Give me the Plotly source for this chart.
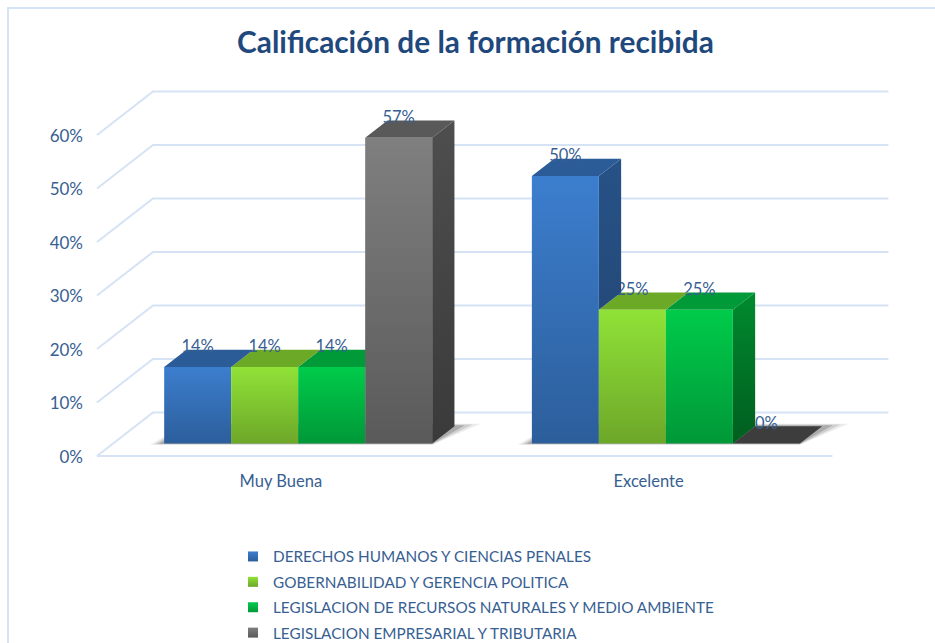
import plotly.graph_objects as go

# ---- data ----
categories = ["Muy Buena", "Excelente"]
series_names = [
    "DERECHOS HUMANOS Y CIENCIAS PENALES",
    "GOBERNABILIDAD Y GERENCIA POLITICA",
    "LEGISLACION DE RECURSOS NATURALES Y MEDIO AMBIENTE",
    "LEGISLACION EMPRESARIAL Y TRIBUTARIA",
]
derechos = [14.29, 50.0]
gobernabilidad = [14.29, 25.0]
legislacion_rn = [14.29, 25.0]
empresarial = [57.14, 0.0]
y_ticks = [0, 10, 20, 30, 40, 50, 60]
y_tick_labels = ["0%", "10%", "20%", "30%", "40%", "50%", "60%"]
series_values = [derechos, gobernabilidad, legislacion_rn, empresarial]

# ---- styles (front top, front bottom, top face, side top, side bottom) ----
styles = [
    ("#3C7ECE", "#2C5E9B", "#2B5C97", "#275287", "#244A7A"),
    ("#90E237", "#6DA729", "#6CA926", "#5E9424", "#4E7A1E"),
    ("#00CB4A", "#009838", "#009A38", "#008A2E", "#005E1F"),
    ("#7F7F7F", "#5A5A5A", "#595959", "#4E4E4E", "#3A3A3A"),
]
TEXT = "#376092"
GRID = "#D5E3F5"
FONT = "Lato"

# ---- layout geometry ----
W, H = 935, 643
X0_PX, Y0_PX = 97.0, 456.0      # front-left corner of the floor
BAND_PX = 367.7                 # width of one category
UNIT_PX = 5.35                  # pixels per percentage point
DEPTH_PX = (56.0, 43.5)         # floor depth vector
BAR_W = 67.0 / BAND_PX
DX, DY = DEPTH_PX[0] / BAND_PX, DEPTH_PX[1] / UNIT_PX
F0, F1 = 0.286, 0.684           # bar's front/back as a fraction of floor depth
GROUP_SHIFT = 1.3 / BAND_PX

x_range = [-X0_PX / BAND_PX, (W - X0_PX) / BAND_PX]
y_range = [-(H - Y0_PX) / UNIT_PX, Y0_PX / UNIT_PX]

fig = go.Figure()


def poly(xs, ys, **kw):
    fig.add_trace(go.Scatter(x=xs + xs[:1], y=ys + ys[:1], mode="lines", fill="toself",
                             hoverinfo="skip", showlegend=False, **kw))


# grid
nc = len(categories)
gx, gy = [], []
for t in y_ticks:
    gx += [0, DX, nc + DX, None]
    gy += [t, t + DY, t + DY, None]
gx += [0, nc, None]
gy += [0, 0, None]
fig.add_trace(go.Scatter(x=gx, y=gy, mode="lines", line=dict(color=GRID, width=2),
                         hoverinfo="skip", showlegend=False))


def front_x(c, s):
    return c + 0.5 + (s - len(series_values) / 2) * BAR_W + F0 * DX + GROUP_SHIFT


base = F0 * DY
fdx = (F1 - F0) * DX
fdy = (F1 - F0) * DY

# floor shadows
for c in range(nc):
    left = front_x(c, 0)
    right = front_x(c, len(series_values))
    for grow, alpha in [(1.0, 0.10), (0.7, 0.16), (0.4, 0.24)]:
        gx_ = grow * 14 / BAND_PX
        gy_ = grow * 1.2 / UNIT_PX
        poly([left - gx_, right, right + fdx + gx_ + 2 * grow * 6 / BAND_PX, left + fdx],
             [base - gy_, base - gy_, base + fdy + gy_ * 2, base + fdy + gy_ * 2],
             line=dict(width=0), fillcolor=f"rgba(60,60,60,{alpha})")

# back-to-front: sides, tops, labels
for s in reversed(range(len(series_values))):
    st = styles[s]
    vals = series_values[s]
    for c in range(nc):
        v = vals[c]
        xl = front_x(c, s)
        xr = xl + BAR_W
        top = base + v
        nxt = series_values[s + 1][c] if s + 1 < len(series_values) else 0
        low = base + min(nxt, v)
        if v > nxt:
            poly([xr, xr + fdx, xr + fdx, xr], [top, top + fdy, low + fdy, low],
                 line=dict(width=0), fillgradient=dict(type="vertical",
                 colorscale=[[0, st[4]], [1, st[3]]]))
        topc = st[2] if v > 0 else "#3D3D3D"
        poly([xl, xr, xr + fdx, xl + fdx], [top, top, top + fdy, top + fdy],
             line=dict(width=0), fillcolor=topc)
        fig.add_trace(go.Scatter(x=[xl + BAR_W / 2], y=[top + 19 / UNIT_PX], mode="text",
                                 text=[f"{v:.0f}%"], textposition="middle center",
                                 textfont=dict(family=FONT, size=16.5, color=TEXT),
                                 hoverinfo="skip", showlegend=False))

# fronts last
for s, vals in enumerate(series_values):
    st = styles[s]
    for c in range(nc):
        v = vals[c]
        if v <= 0:
            continue
        xl = front_x(c, s)
        xr = xl + BAR_W
        poly([xl, xr, xr, xl], [base, base, base + v, base + v],
             line=dict(width=0),
             fillgradient=dict(type="vertical", colorscale=[[0, st[1]], [1, st[0]]]))

# legend
for s, name in enumerate(series_names):
    st = styles[s]
    fig.add_trace(go.Scatter(x=[None], y=[None], mode="markers", name=name, legendgroup=name,
                             marker=dict(symbol="square", size=10, color=st[0],
                                         gradient=dict(type="vertical", color=st[1]))))

fig.update_layout(
    width=W, height=H, margin=dict(l=0, r=0, t=0, b=0, pad=0, autoexpand=False),
    paper_bgcolor="white", plot_bgcolor="rgba(0,0,0,0)",
    font=dict(family=FONT, color=TEXT),
    title=dict(text="<b>Calificación de la formación recibida</b>", x=475.5 / W, y=1 - 43 / H,
               xanchor="center", yanchor="middle",
               font=dict(family=FONT, size=29.8, color="#1F497D")),
    showlegend=True,
    legend=dict(x=233 / W, y=1 - 540 / H, xanchor="left", yanchor="top",
                bgcolor="rgba(0,0,0,0)", font=dict(family=FONT, size=15.3, color=TEXT),
                tracegroupgap=2.5, traceorder="grouped"),
    xaxis=dict(range=x_range, domain=[0, 1], anchor="free", position=(H - Y0_PX) / H,
               tickvals=[i + 0.5 for i in range(nc)], ticktext=categories,
               showgrid=False, zeroline=False, showline=False, ticks="", ticklabelstandoff=13,
               tickfont=dict(family=FONT, size=16.5, color=TEXT), fixedrange=True),
    yaxis=dict(range=y_range, domain=[0, 1], anchor="free", position=X0_PX / W,
               tickvals=y_ticks, ticktext=y_tick_labels,
               showgrid=False, zeroline=False, showline=False, ticks="", ticklabelstandoff=14,
               ticklabelshift=1,
               tickfont=dict(family=FONT, size=17, color=TEXT), fixedrange=True),
    shapes=[dict(type="rect", xref="paper", yref="paper",
                 x0=8 / W, x1=1.05, y0=-0.05, y1=1 - 8 / H,
                 line=dict(color="#D5E3F5", width=2), layer="below")],
)
fig.write_html("out.html", config={"displayModeBar": False},
               post_script="document.body.style.margin='0';document.body.style.overflow='hidden';")
